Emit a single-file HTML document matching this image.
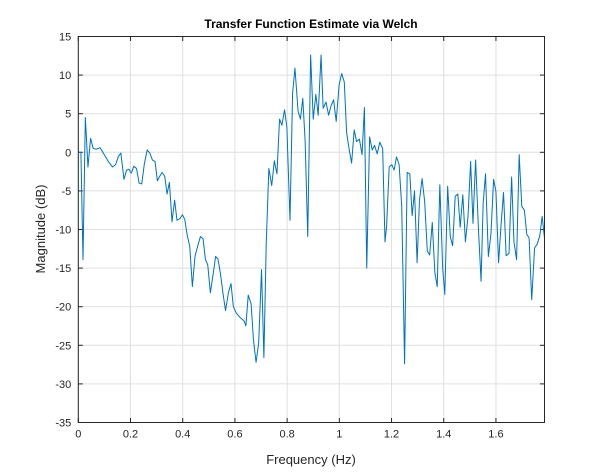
<!DOCTYPE html>
<html><head><meta charset="utf-8"><style>
html,body{margin:0;padding:0;background:#fff;}
svg{display:block;font-family:"Liberation Sans",Arial,sans-serif;}
</style></head><body>
<svg id="chart" width="602" height="475" viewBox="0 0 602 475">
<rect x="0" y="0" width="602" height="475" fill="#fff"/>
<rect x="78.3" y="36.5" width="466.2" height="386" fill="#fff"/>
<g id="grid"></g>
<g id="ticks"></g>
<path id="series" fill="none" stroke="#0072BD" stroke-width="1" stroke-linejoin="round"/>
<rect x="78.3" y="36.5" width="466.2" height="386" fill="none" stroke="#262626" stroke-width="1"/>
<text x="311" y="28" text-anchor="middle" font-size="12" font-weight="bold" fill="#000">Transfer Function Estimate via Welch</text>
<text x="311" y="464" text-anchor="middle" font-size="13" fill="#262626">Frequency (Hz)</text>
<text transform="translate(45,229) rotate(-90)" text-anchor="middle" font-size="13" fill="#262626">Magnitude (dB)</text>
</svg>
<script>
const freqs = [0,0.01,0.018,0.027,0.037,0.047,0.057,0.07,0.083,0.096,0.115,0.131,0.143,0.154,0.163,0.175,0.185,0.194,0.203,0.213,0.223,0.233,0.243,0.253,0.264,0.274,0.284,0.294,0.303,0.312,0.321,0.331,0.340,0.349,0.359,0.369,0.378,0.389,0.399,0.408,0.417,0.427,0.437,0.447,0.457,0.468,0.478,0.487,0.496,0.506,0.516,0.526,0.535,0.544,0.554,0.564,0.575,0.585,0.594,0.605,0.617,0.630,0.636,0.642,0.651,0.662,0.671,0.681,0.691,0.702,0.711,0.720,0.730,0.741,0.751,0.761,0.771,0.780,0.790,0.799,0.811,0.821,0.830,0.842,0.851,0.860,0.869,0.879,0.890,0.900,0.910,0.919,0.930,0.938,0.949,0.959,0.968,0.978,0.988,0.999,1.009,1.019,1.028,1.038,1.047,1.057,1.066,1.077,1.087,1.096,1.105,1.116,1.126,1.135,1.145,1.155,1.166,1.175,1.181,1.191,1.201,1.210,1.219,1.229,1.239,1.250,1.260,1.270,1.279,1.288,1.298,1.307,1.317,1.327,1.337,1.346,1.356,1.366,1.375,1.385,1.396,1.404,1.415,1.425,1.434,1.444,1.454,1.463,1.473,1.483,1.493,1.503,1.512,1.522,1.533,1.543,1.551,1.560,1.571,1.581,1.591,1.600,1.610,1.620,1.629,1.639,1.650,1.660,1.669,1.679,1.689,1.699,1.709,1.718,1.727,1.737,1.748,1.758,1.768,1.777,1.786];
const magnitudes = [0,0,-13.9,4.5,-1.9,1.8,0.5,0.4,0.6,-0.1,-1.2,-1.9,-1.6,-0.5,-0.1,-3.5,-2.3,-2.2,-2.7,-1.8,-2.1,-4.0,-4.1,-1.5,0.3,-0.1,-1.0,-1.2,-3.7,-3.1,-2.6,-3.1,-5.4,-3.9,-9.0,-6.2,-8.8,-8.6,-8.1,-8.7,-10.7,-12.2,-17.4,-13.5,-12.2,-10.9,-11.2,-13.9,-14.6,-18.2,-15.9,-13.5,-13.8,-15.6,-18.2,-20.5,-18.2,-17.0,-20.0,-20.8,-21.3,-21.7,-21.9,-22.5,-18.5,-19.6,-24.3,-27.2,-24.7,-15.2,-26.6,-11.8,-2.1,-4.3,-1.1,-2.8,4.3,3.5,5.5,3.3,-8.8,7.7,10.9,5.3,4.3,7.0,1.4,-10.9,12.6,4.3,7.5,4.8,12.6,5.7,6.5,4.8,6.0,6.8,4.0,8.7,10.2,9.1,2.5,0.3,-1.4,2.9,1.4,1.7,-0.3,5.8,-15.0,2.0,0.3,0.9,-0.2,1.3,0.5,-11.6,-9.6,-1.9,-1.6,-2.3,-0.6,-1.6,-7.0,-27.4,-2.6,-2.8,-8.2,-5.0,-14.3,-6.2,-3.4,-6.4,-12.8,-13.3,-9.1,-15.6,-17.4,-4.2,-15.1,-18.4,-4.4,-10.9,-12.1,-5.7,-5.4,-9.7,-5.5,-11.6,-8.3,-1.2,-9.2,-1.0,-10.0,-16.7,-6.6,-2.8,-13.5,-10.5,-3.5,-5.1,-14.3,-9.2,-5.2,-13.4,-13.1,-3.2,-11.6,-13.9,-0.3,-7.0,-7.5,-10.6,-11.1,-19.1,-12.4,-11.9,-10.8,-8.3,-11.1];
const xTicks = [0,0.2,0.4,0.6,0.8,1,1.2,1.4,1.6];
const xTickLabels = ["0","0.2","0.4","0.6","0.8","1","1.2","1.4","1.6"];
const yTicks = [15,10,5,0,-5,-10,-15,-20,-25,-30,-35];
const yTickLabels = ["15","10","5","0","-5","-10","-15","-20","-25","-30","-35"];

const X0=78.3, X1=544.5, Y0=36.5, Y1=422.5, XMAX=1.786, YMIN=-35, YMAX=15;
function xs(v){return X0+(v/XMAX)*(X1-X0);}
function ys(v){return Y0+(YMAX-v)/(YMAX-YMIN)*(Y1-Y0);}
const NS="http://www.w3.org/2000/svg";
const grid=document.getElementById('grid'), ticks=document.getElementById('ticks');
function mk(tag,attrs,parent){const e=document.createElementNS(NS,tag);for(const k in attrs)e.setAttribute(k,attrs[k]);parent.appendChild(e);return e;}
xTicks.forEach((t,i)=>{
  const x=xs(t);
  const g=mk('line',{x1:x,x2:x,y1:Y0,y2:Y1,stroke:'#dfdfdf','stroke-width':1},grid);
  
  
  const tb=mk('line',{x1:x,x2:x,y1:Y1,y2:Y1-4.5,stroke:'#262626','stroke-width':1},ticks);
  
  
  const tt=mk('line',{x1:x,x2:x,y1:Y0,y2:Y0+4.5,stroke:'#262626','stroke-width':1},ticks);
  
  
  const l=mk('text',{x:x,y:Y1+15,'text-anchor':'middle','font-size':11,fill:'#262626'},ticks);
  l.textContent=xTickLabels[i];
  
  
});
yTicks.forEach((t,i)=>{
  const y=ys(t);
  const g=mk('line',{x1:X0,x2:X1,y1:y,y2:y,stroke:'#dfdfdf','stroke-width':1},grid);
  
  
  const tl=mk('line',{x1:X0,x2:X0+4.5,y1:y,y2:y,stroke:'#262626','stroke-width':1},ticks);
  
  
  const tr=mk('line',{x1:X1,x2:X1-4.5,y1:y,y2:y,stroke:'#262626','stroke-width':1},ticks);
  
  
  const l=mk('text',{x:X0-7,y:y+4,'text-anchor':'end','font-size':11,fill:'#262626'},ticks);
  l.textContent=yTickLabels[i];
  
  
});
let d='';
freqs.forEach((f,i)=>{d+=(i?'L':'M')+xs(f).toFixed(2)+','+ys(magnitudes[i]).toFixed(2);});
document.getElementById('series').setAttribute('d',d);
</script>
</body></html>
